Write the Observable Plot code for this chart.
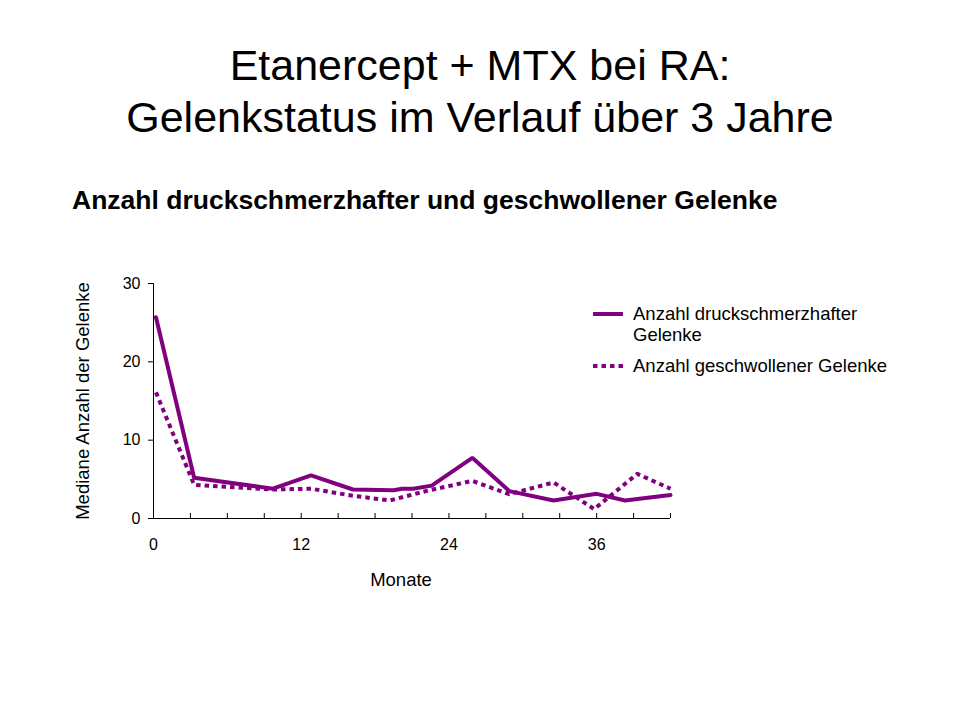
<!DOCTYPE html>
<html>
<head>
<meta charset="utf-8">
<script src="https://cdn.jsdelivr.net/npm/d3@7"></script>
<script src="https://cdn.jsdelivr.net/npm/@observablehq/plot@0.6"></script>
<style>
  html, body { margin: 0; padding: 0; background: #fff; }
  body { width: 960px; height: 720px; position: relative; overflow: hidden; font-family: "Liberation Sans", Arial, sans-serif; }
  #chart { position: absolute; left: 0; top: 0; }
  #chart svg [aria-label$="tick label"], #chart svg [aria-label$="tick label"] text { font-size: 16px !important; font-family: "Liberation Sans", Arial, sans-serif !important; }
  .abs { position: absolute; white-space: nowrap; color: #000; }
  #title { left: 0; width: 960px; top: 39px; text-align: center; font-size: 43px; line-height: 52px; }
  #subtitle { left: 72px; top: 200px; font-size: 26.5px; line-height: 30px; font-weight: bold; transform: translateY(-50%); }
  #ylabel { left: 83px; top: 401px; font-size: 18.5px; transform: translate(-50%, -50%) rotate(-90deg); }
  #xlabel { left: 401px; top: 580px; font-size: 18.5px; transform: translate(-50%, -50%); }
  #legend { left: 593px; top: 303px; font-size: 18.5px; line-height: 21px; }
  .item { display: flex; align-items: flex-start; margin-bottom: 10px; }
  .item svg { margin-top: 3px; margin-right: 10px; }
</style>
</head>
<body>
<div id="chart"></div>
<div id="title" class="abs">Etanercept + MTX bei RA:<br>Gelenkstatus im Verlauf über 3 Jahre</div>
<div id="subtitle" class="abs">Anzahl druckschmerzhafter und geschwollener Gelenke</div>
<div id="ylabel" class="abs">Mediane Anzahl der Gelenke</div>
<div id="xlabel" class="abs">Monate</div>
<div id="legend" class="abs"></div>
<script>
// Data
const seriesNames = ["Anzahl druckschmerzhafter Gelenke", "Anzahl geschwollener Gelenke"];
const tenderMonths = [0.2, 3.3, 9.7, 12.8, 16.2, 19.5, 20.2, 21.1, 22.6, 25.9, 28.9, 32.5, 36.0, 38.3, 42.0];
const tenderValues = [25.7, 5.2, 3.8, 5.5, 3.7, 3.6, 3.8, 3.8, 4.2, 7.75, 3.5, 2.3, 3.15, 2.3, 3.0];
const swollenMonths = [0.2, 3.3, 9.7, 12.8, 16.2, 19.2, 22.4, 25.9, 28.9, 32.5, 35.8, 39.3, 42.0];
const swollenValues = [16.1, 4.3, 3.7, 3.8, 2.9, 2.3, 3.6, 4.8, 3.1, 4.6, 1.2, 5.7, 3.8];
const xTickLabels = [0, 12, 24, 36];
const xMinorTicks = [0, 3, 6, 9, 12, 15, 18, 21, 24, 27, 30, 33, 36, 39, 42];
const yTicks = [0, 10, 20, 30];

const purple = "#800080";
const tender = tenderMonths.map((m, i) => ({month: m, value: tenderValues[i]}));
const swollen = swollenMonths.map((m, i) => ({month: m, value: swollenValues[i]}));

const plot = Plot.plot({
  width: 960,
  height: 720,
  marginLeft: 153,
  marginRight: 290,
  marginTop: 283,
  marginBottom: 202,
  style: {fontFamily: "'Liberation Sans', Arial, sans-serif", fontSize: "16px", color: "#000", background: "transparent"},
  x: {domain: [0, 42]},
  y: {domain: [0, 30]},
  marks: [
    Plot.axisY({ticks: yTicks, tickSize: 5, tickPadding: 8, label: null, fontSize: 16}),
    Plot.axisX({ticks: xTickLabels, tickSize: 0, tickPadding: 20, label: null, fontSize: 16}),
    Plot.ruleX(xMinorTicks, {y1: 0, y2: 0, insetTop: -5, stroke: "#000"}),
    Plot.ruleY([0], {stroke: "#000"}),
    Plot.ruleX([0], {stroke: "#000"}),
    Plot.line(tender, {x: "month", y: "value", stroke: purple, strokeWidth: 4, strokeLinejoin: "miter"}),
    Plot.line(swollen, {x: "month", y: "value", stroke: purple, strokeWidth: 4, strokeDasharray: "4.5,4", strokeLinecap: "butt"})
  ]
});
document.getElementById("chart").appendChild(plot);

const legend = document.getElementById("legend");
const dashes = [null, "4.5,4"];
const labels = [["Anzahl druckschmerzhafter", "Gelenke"], ["Anzahl geschwollener Gelenke"]];
seriesNames.forEach((name, i) => {
  const item = document.createElement("div");
  item.className = "item";
  item.innerHTML = `<svg width="30" height="16"><line x1="0" x2="30" y1="8" y2="8" stroke="${purple}" stroke-width="4" ${dashes[i] ? `stroke-dasharray="${dashes[i]}"` : ""}/></svg><div>${labels[i].join("<br>")}</div>`;
  legend.appendChild(item);
});
</script>
</body>
</html>
